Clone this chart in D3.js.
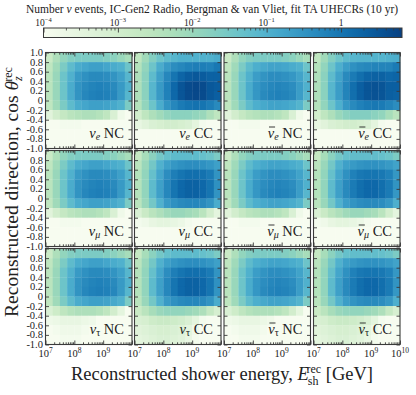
<!DOCTYPE html>
<html>
<head>
<meta charset="utf-8">
<script src="https://cdn.jsdelivr.net/npm/d3@7"></script>
<style>
  body { margin: 0; background: #fff; }
  svg { font-family: "Liberation Serif", "DejaVu Serif", serif; }
</style>
</head>
<body>
<div id="chart"></div>
<script>
// bin edges (log10 of energy in GeV, and cos theta)
const xEdgeExp = [7, 7.25, 7.5, 7.75, 8, 8.25, 8.5, 8.75, 9, 9.25, 9.5, 9.75, 10];
const yEdges = [-1, -0.8, -0.6, -0.4, -0.2, 0, 0.2, 0.4, 0.6, 0.8, 1];

// tick labels
const yTickValues = [1, 0.8, 0.6, 0.4, 0.2, 0, -0.2, -0.4, -0.6, -0.8, -1];
const yTickText = ["1.0", "0.8", "0.6", "0.4", "0.2", "0", "-0.2", "-0.4", "-0.6", "-0.8", "-1.0"];
const xTickExp = [7, 8, 9, 10];
const cbarTickExp = [-4, -3, -2, -1, 0];
const cbarRange = [1e-4, 6.6];

// panel labels: [flavour subscript, antineutrino?, interaction]
const panelNames = [
  ["e", false, "NC"], ["e", true, "NC"], ["e", false, "CC"], ["e", true, "CC"],
  ["μ", false, "NC"], ["μ", true, "NC"], ["μ", false, "CC"], ["μ", true, "CC"],
  ["τ", false, "NC"], ["τ", true, "NC"], ["τ", false, "CC"], ["τ", true, "CC"]
];
// grid order on the page (row by row): nu_e NC, nu_e CC, nubar_e NC, nubar_e CC ...
const panelOrder = [0, 2, 1, 3, 4, 6, 5, 7, 8, 10, 9, 11];

// log10(number of events) per cell, rows from cos = 1 (top) down to cos = -1
const nueNC = [
  [-2.8,-2.3,-1.9,-1.7,-1.6,-1.6,-1.6,-1.6,-1.7,-1.8,-2.0,-2.2],
  [-2.6,-2.1,-1.6,-1.2,-0.9,-0.8,-0.7,-0.7,-0.8,-0.9,-1.0,-1.4],
  [-2.5,-2.0,-1.4,-1.0,-0.6,-0.45,-0.35,-0.35,-0.4,-0.5,-0.7,-1.1],
  [-2.5,-2.0,-1.4,-0.9,-0.5,-0.35,-0.25,-0.2,-0.25,-0.35,-0.6,-1.0],
  [-2.5,-2.0,-1.4,-0.9,-0.5,-0.3,-0.2,-0.15,-0.2,-0.3,-0.6,-1.1],
  [-2.6,-2.1,-1.6,-1.2,-0.9,-0.8,-0.7,-0.7,-0.75,-0.85,-1.0,-1.6],
  [-3.4,-3.0,-2.7,-2.5,-2.4,-2.3,-2.3,-2.4,-2.6,-3.2,-3.8,-4.2],
  [-4.1,-4.0,-3.9,-3.9,-3.9,-4.0,-4.0,-4.2,-4.5,-5,-5,-5],
  [-4.3,-4.3,-4.2,-4.2,-4.3,-4.4,-4.5,-5,-5,-5,-5,-5],
  [-4.5,-4.4,-4.4,-4.4,-4.5,-4.6,-5,-5,-5,-5,-5,-5]
];
const nuebarNC = [
  [-2.8,-2.3,-1.9,-1.7,-1.6,-1.6,-1.6,-1.6,-1.7,-1.8,-2.0,-2.2],
  [-2.6,-2.1,-1.6,-1.2,-0.95,-0.85,-0.75,-0.75,-0.8,-0.9,-1.0,-1.4],
  [-2.5,-2.0,-1.4,-1.0,-0.65,-0.5,-0.4,-0.4,-0.45,-0.55,-0.75,-1.1],
  [-2.5,-2.0,-1.4,-0.9,-0.55,-0.4,-0.3,-0.25,-0.3,-0.4,-0.65,-1.0],
  [-2.5,-2.0,-1.4,-0.9,-0.55,-0.35,-0.25,-0.2,-0.25,-0.35,-0.65,-1.1],
  [-2.6,-2.1,-1.6,-1.2,-0.95,-0.85,-0.75,-0.75,-0.8,-0.9,-1.05,-1.6],
  [-3.4,-3.0,-2.7,-2.5,-2.4,-2.3,-2.3,-2.4,-2.6,-3.2,-3.8,-4.2],
  [-4.1,-4.0,-3.9,-3.9,-3.9,-4.0,-4.0,-4.2,-4.5,-5,-5,-5],
  [-4.3,-4.3,-4.2,-4.2,-4.3,-4.4,-4.5,-5,-5,-5,-5,-5],
  [-4.5,-4.4,-4.4,-4.4,-4.5,-4.6,-5,-5,-5,-5,-5,-5]
];
const nueCC = [
  [-2.6,-2.1,-1.7,-1.4,-1.2,-1.1,-1.0,-1.0,-1.0,-1.0,-1.0,-0.9],
  [-2.4,-1.9,-1.4,-0.9,-0.6,-0.4,-0.3,-0.2,-0.15,-0.15,-0.2,-0.05],
  [-2.3,-1.8,-1.2,-0.7,-0.3,0.0,0.25,0.4,0.45,0.4,0.3,0.3],
  [-2.3,-1.8,-1.1,-0.6,-0.2,0.2,0.5,0.65,0.7,0.65,0.45,0.4],
  [-2.3,-1.8,-1.1,-0.6,-0.2,0.2,0.5,0.65,0.7,0.65,0.45,0.35],
  [-2.4,-1.9,-1.4,-0.9,-0.5,-0.3,-0.1,0.0,0.05,0.0,-0.15,-0.35],
  [-3.0,-2.6,-2.3,-2.1,-1.9,-1.8,-1.8,-1.8,-1.9,-2.0,-2.3,-2.6],
  [-3.6,-3.4,-3.2,-3.1,-3.0,-3.0,-3.1,-3.2,-3.5,-3.9,-4.3,-4.6],
  [-4.2,-4.1,-4.0,-4.0,-4.0,-4.1,-4.2,-4.4,-4.7,-5,-5,-5],
  [-4.4,-4.3,-4.3,-4.3,-4.4,-4.5,-4.7,-5,-5,-5,-5,-5]
];
const nuebarCC = [
  [-2.6,-2.1,-1.7,-1.4,-1.2,-1.1,-1.05,-1.05,-1.05,-1.05,-1.0,-0.95],
  [-2.4,-1.9,-1.4,-0.95,-0.65,-0.45,-0.35,-0.3,-0.25,-0.25,-0.25,-0.1],
  [-2.3,-1.8,-1.2,-0.75,-0.35,-0.1,0.1,0.25,0.3,0.3,0.2,0.25],
  [-2.3,-1.8,-1.1,-0.65,-0.25,0.1,0.35,0.5,0.55,0.5,0.35,0.35],
  [-2.3,-1.8,-1.1,-0.65,-0.25,0.1,0.35,0.5,0.55,0.5,0.35,0.3],
  [-2.4,-1.9,-1.4,-0.95,-0.55,-0.35,-0.2,-0.1,-0.05,-0.1,-0.25,-0.4],
  [-3.0,-2.6,-2.3,-2.0,-1.8,-1.7,-1.7,-1.7,-1.8,-1.9,-2.2,-2.5],
  [-3.6,-3.4,-3.2,-3.1,-3.0,-3.0,-3.1,-3.2,-3.5,-3.9,-4.3,-4.6],
  [-4.2,-4.1,-4.0,-4.0,-4.0,-4.1,-4.2,-4.4,-4.7,-5,-5,-5],
  [-4.4,-4.3,-4.3,-4.3,-4.4,-4.5,-4.7,-5,-5,-5,-5,-5]
];
const numuNC = [
  [-2.8,-2.3,-1.9,-1.7,-1.6,-1.6,-1.6,-1.6,-1.7,-1.8,-2.0,-2.2],
  [-2.6,-2.1,-1.6,-1.2,-0.9,-0.8,-0.7,-0.7,-0.8,-0.9,-1.0,-1.4],
  [-2.5,-2.0,-1.4,-1.0,-0.6,-0.45,-0.35,-0.35,-0.4,-0.5,-0.7,-1.1],
  [-2.5,-2.0,-1.4,-0.9,-0.5,-0.35,-0.25,-0.2,-0.25,-0.35,-0.6,-1.0],
  [-2.5,-2.0,-1.4,-0.9,-0.5,-0.3,-0.2,-0.15,-0.2,-0.3,-0.6,-1.1],
  [-2.6,-2.1,-1.6,-1.2,-0.9,-0.8,-0.7,-0.7,-0.75,-0.85,-1.0,-1.6],
  [-3.4,-3.0,-2.7,-2.5,-2.4,-2.3,-2.3,-2.4,-2.6,-3.2,-3.8,-4.2],
  [-4.1,-4.0,-3.9,-3.9,-3.9,-4.0,-4.0,-4.2,-4.5,-5,-5,-5],
  [-4.3,-4.3,-4.2,-4.2,-4.3,-4.4,-4.5,-5,-5,-5,-5,-5],
  [-4.5,-4.4,-4.4,-4.4,-4.5,-4.6,-5,-5,-5,-5,-5,-5]
];
const numubarNC = [
  [-2.8,-2.3,-1.9,-1.7,-1.6,-1.6,-1.6,-1.6,-1.7,-1.8,-2.0,-2.2],
  [-2.6,-2.1,-1.6,-1.2,-0.95,-0.85,-0.75,-0.75,-0.8,-0.9,-1.0,-1.4],
  [-2.5,-2.0,-1.4,-1.0,-0.65,-0.5,-0.4,-0.4,-0.45,-0.55,-0.75,-1.1],
  [-2.5,-2.0,-1.4,-0.9,-0.55,-0.4,-0.3,-0.25,-0.3,-0.4,-0.65,-1.0],
  [-2.5,-2.0,-1.4,-0.9,-0.55,-0.35,-0.25,-0.2,-0.25,-0.35,-0.65,-1.1],
  [-2.6,-2.1,-1.6,-1.2,-0.95,-0.85,-0.75,-0.75,-0.8,-0.9,-1.05,-1.6],
  [-3.4,-3.0,-2.7,-2.5,-2.4,-2.3,-2.3,-2.4,-2.6,-3.2,-3.8,-4.2],
  [-4.1,-4.0,-3.9,-3.9,-3.9,-4.0,-4.0,-4.2,-4.5,-5,-5,-5],
  [-4.3,-4.3,-4.2,-4.2,-4.3,-4.4,-4.5,-5,-5,-5,-5,-5],
  [-4.5,-4.4,-4.4,-4.4,-4.5,-4.6,-5,-5,-5,-5,-5,-5]
];
const numuCC = [
  [-2.7,-2.2,-1.8,-1.5,-1.3,-1.2,-1.2,-1.2,-1.2,-1.3,-1.4,-1.6],
  [-2.5,-2.0,-1.5,-1.0,-0.7,-0.55,-0.45,-0.4,-0.4,-0.45,-0.55,-0.7],
  [-2.4,-1.9,-1.3,-0.8,-0.4,-0.15,0.0,0.1,0.1,0.05,-0.1,-0.5],
  [-2.4,-1.9,-1.2,-0.7,-0.3,0.0,0.2,0.3,0.3,0.2,0.0,-0.45],
  [-2.4,-1.9,-1.2,-0.7,-0.3,0.0,0.2,0.3,0.3,0.2,0.0,-0.5],
  [-2.5,-2.0,-1.5,-1.0,-0.6,-0.45,-0.35,-0.3,-0.3,-0.35,-0.5,-0.9],
  [-3.2,-2.8,-2.5,-2.3,-2.1,-2.0,-2.0,-2.1,-2.2,-2.5,-3.0,-3.5],
  [-3.9,-3.8,-3.6,-3.5,-3.5,-3.6,-3.7,-3.9,-4.2,-4.6,-5,-5],
  [-4.3,-4.2,-4.1,-4.1,-4.2,-4.3,-4.4,-4.7,-5,-5,-5,-5],
  [-4.5,-4.4,-4.4,-4.4,-4.5,-4.6,-4.8,-5,-5,-5,-5,-5]
];
const numubarCC = [
  [-2.7,-2.2,-1.8,-1.5,-1.3,-1.25,-1.25,-1.25,-1.25,-1.3,-1.4,-1.6],
  [-2.5,-2.0,-1.5,-1.0,-0.7,-0.6,-0.5,-0.45,-0.45,-0.5,-0.6,-0.75],
  [-2.4,-1.9,-1.3,-0.8,-0.45,-0.2,-0.05,0.0,0.0,-0.05,-0.2,-0.55],
  [-2.4,-1.9,-1.2,-0.7,-0.35,-0.1,0.1,0.2,0.2,0.1,-0.1,-0.5],
  [-2.4,-1.9,-1.2,-0.7,-0.35,-0.1,0.1,0.2,0.2,0.1,-0.1,-0.55],
  [-2.5,-2.0,-1.5,-1.0,-0.65,-0.5,-0.4,-0.35,-0.35,-0.4,-0.55,-0.95],
  [-3.2,-2.8,-2.5,-2.3,-2.1,-2.0,-2.0,-2.1,-2.2,-2.5,-3.0,-3.5],
  [-3.9,-3.8,-3.6,-3.5,-3.5,-3.6,-3.7,-3.9,-4.2,-4.6,-5,-5],
  [-4.3,-4.2,-4.1,-4.1,-4.2,-4.3,-4.4,-4.7,-5,-5,-5,-5],
  [-4.5,-4.4,-4.4,-4.4,-4.5,-4.6,-4.8,-5,-5,-5,-5,-5]
];
const nutauNC = [
  [-2.8,-2.3,-1.9,-1.7,-1.6,-1.6,-1.6,-1.6,-1.7,-1.8,-2.0,-2.2],
  [-2.6,-2.1,-1.6,-1.2,-0.9,-0.8,-0.7,-0.7,-0.8,-0.9,-1.0,-1.4],
  [-2.5,-2.0,-1.4,-1.0,-0.6,-0.45,-0.35,-0.35,-0.4,-0.5,-0.7,-1.1],
  [-2.5,-2.0,-1.4,-0.9,-0.5,-0.35,-0.25,-0.2,-0.25,-0.35,-0.6,-1.0],
  [-2.5,-2.0,-1.4,-0.9,-0.5,-0.3,-0.2,-0.15,-0.2,-0.3,-0.6,-1.1],
  [-2.6,-2.1,-1.6,-1.2,-0.9,-0.8,-0.7,-0.7,-0.75,-0.85,-1.0,-1.6],
  [-3.2,-2.9,-2.6,-2.4,-2.3,-2.3,-2.3,-2.4,-2.6,-3.0,-3.5,-4.0],
  [-3.8,-3.7,-3.6,-3.6,-3.6,-3.7,-3.8,-4.0,-4.3,-4.7,-5,-5],
  [-4.0,-3.9,-3.8,-3.8,-3.8,-3.9,-4.0,-4.2,-4.5,-4.9,-5,-5],
  [-4.1,-4.0,-3.9,-3.9,-3.9,-4.0,-4.1,-4.3,-4.6,-5,-5,-5]
];
const nutaubarNC = [
  [-2.8,-2.3,-1.9,-1.7,-1.6,-1.6,-1.6,-1.6,-1.7,-1.8,-2.0,-2.2],
  [-2.6,-2.1,-1.6,-1.2,-0.95,-0.85,-0.75,-0.75,-0.8,-0.9,-1.0,-1.4],
  [-2.5,-2.0,-1.4,-1.0,-0.65,-0.5,-0.4,-0.4,-0.45,-0.55,-0.75,-1.1],
  [-2.5,-2.0,-1.4,-0.9,-0.55,-0.4,-0.3,-0.25,-0.3,-0.4,-0.65,-1.0],
  [-2.5,-2.0,-1.4,-0.9,-0.55,-0.35,-0.25,-0.2,-0.25,-0.35,-0.65,-1.1],
  [-2.6,-2.1,-1.6,-1.2,-0.95,-0.85,-0.75,-0.75,-0.8,-0.9,-1.05,-1.6],
  [-3.2,-2.9,-2.6,-2.4,-2.3,-2.3,-2.3,-2.4,-2.6,-3.0,-3.5,-4.0],
  [-3.8,-3.7,-3.6,-3.6,-3.6,-3.7,-3.8,-4.0,-4.3,-4.7,-5,-5],
  [-4.0,-3.9,-3.8,-3.8,-3.8,-3.9,-4.0,-4.2,-4.5,-4.9,-5,-5],
  [-4.1,-4.0,-3.9,-3.9,-3.9,-4.0,-4.1,-4.3,-4.6,-5,-5,-5]
];
const nutauCC = [
  [-2.7,-2.2,-1.8,-1.5,-1.3,-1.2,-1.2,-1.2,-1.2,-1.3,-1.4,-1.6],
  [-2.5,-2.0,-1.5,-1.0,-0.7,-0.55,-0.45,-0.4,-0.4,-0.45,-0.55,-0.7],
  [-2.4,-1.9,-1.3,-0.8,-0.4,-0.15,0.0,0.1,0.1,0.05,-0.1,-0.5],
  [-2.4,-1.9,-1.2,-0.7,-0.3,0.0,0.2,0.3,0.3,0.2,0.0,-0.45],
  [-2.4,-1.9,-1.2,-0.7,-0.3,0.0,0.2,0.3,0.3,0.2,0.0,-0.5],
  [-2.5,-2.0,-1.5,-1.0,-0.6,-0.45,-0.35,-0.3,-0.3,-0.35,-0.5,-0.9],
  [-2.8,-2.5,-2.2,-2.0,-1.9,-1.9,-1.9,-2.0,-2.1,-2.3,-2.7,-3.1],
  [-3.2,-3.1,-2.9,-2.8,-2.8,-2.9,-3.0,-3.2,-3.5,-3.9,-4.3,-4.7],
  [-3.4,-3.3,-3.2,-3.1,-3.1,-3.2,-3.3,-3.5,-3.8,-4.2,-4.6,-5],
  [-3.5,-3.4,-3.3,-3.2,-3.2,-3.3,-3.4,-3.6,-3.9,-4.3,-4.7,-5]
];
const nutaubarCC = [
  [-2.7,-2.2,-1.8,-1.5,-1.3,-1.25,-1.25,-1.25,-1.25,-1.3,-1.4,-1.6],
  [-2.5,-2.0,-1.5,-1.0,-0.7,-0.6,-0.5,-0.45,-0.45,-0.5,-0.6,-0.75],
  [-2.4,-1.9,-1.3,-0.8,-0.45,-0.2,-0.05,0.0,0.0,-0.05,-0.2,-0.55],
  [-2.4,-1.9,-1.2,-0.7,-0.35,-0.1,0.1,0.2,0.2,0.1,-0.1,-0.5],
  [-2.4,-1.9,-1.2,-0.7,-0.35,-0.1,0.1,0.2,0.2,0.1,-0.1,-0.55],
  [-2.5,-2.0,-1.5,-1.0,-0.65,-0.5,-0.4,-0.35,-0.35,-0.4,-0.55,-0.95],
  [-2.8,-2.5,-2.2,-2.0,-1.9,-1.9,-1.9,-2.0,-2.1,-2.3,-2.7,-3.1],
  [-3.2,-3.1,-2.9,-2.8,-2.8,-2.9,-3.0,-3.2,-3.5,-3.9,-4.3,-4.7],
  [-3.4,-3.3,-3.2,-3.1,-3.1,-3.2,-3.3,-3.5,-3.8,-4.2,-4.6,-5],
  [-3.5,-3.4,-3.3,-3.2,-3.2,-3.3,-3.4,-3.6,-3.9,-4.3,-4.7,-5]
];
const panelValues = [nueNC, nuebarNC, nueCC, nuebarCC, numuNC, numubarNC,
                     numuCC, numubarCC, nutauNC, nutaubarNC, nutauCC, nutaubarCC];

// layout
const width = 416, height = 395;
const colX = [45.5, 134.5, 224, 313.5];
const rowY = [52.5, 150.5, 248.5];
const pw = 86.5, ph = 96;
const frameColor = "#3a3a3a";
const textColor = "#222";

const svg = d3.select("#chart")
  .append("svg")
  .attr("width", width)
  .attr("height", height);

const x = d3.scaleLog().domain([1e7, 1e10]).range([0, pw]);
const y = d3.scaleLinear().domain([-1, 1]).range([ph, 0]);
const color = d3.scaleSequentialLog(d3.interpolateGnBu).domain(cbarRange).clamp(true);

// minor ticks for log axes
function minorTicks(lo, hi) {
  const out = [];
  for (let e = lo; e < hi; e++) for (let m = 2; m <= 9; m++) out.push(m * Math.pow(10, e));
  return out;
}

panelOrder.forEach(function(p, i) {
  const col = i % 4, row = Math.floor(i / 4);
  const g = svg.append("g").attr("transform", `translate(${colX[col]},${rowY[row]})`);
  const vals = panelValues[p];

  // heatmap cells
  const cells = [];
  vals.forEach(function(r, ri) {
    r.forEach(function(v, ci) {
      cells.push({ x0: Math.pow(10, xEdgeExp[ci]), x1: Math.pow(10, xEdgeExp[ci + 1]),
                   y0: yEdges[9 - ri], y1: yEdges[10 - ri], v: v });
    });
  });
  g.append("g")
    .selectAll("rect")
    .data(cells)
    .join("rect")
      .attr("x", d => x(d.x0))
      .attr("y", d => y(d.y1))
      .attr("width", d => x(d.x1) - x(d.x0) + 0.3)
      .attr("height", d => y(d.y0) - y(d.y1) + 0.3)
      .attr("fill", d => color(Math.pow(10, d.v)));

  // ticks, pointing inwards on all four sides
  const major = xTickExp.map(e => Math.pow(10, e));
  const addX = function(axisFn, ty, vals, len) {
    g.append("g")
      .attr("transform", `translate(0,${ty})`)
      .call(axisFn(x).tickValues(vals).tickSizeInner(-len).tickSizeOuter(0).tickFormat(""))
      .call(a => a.select(".domain").remove())
      .call(a => a.selectAll("line").attr("stroke", frameColor).attr("stroke-width", 0.9));
  };
  addX(d3.axisBottom, ph, major, 4);
  addX(d3.axisBottom, ph, minorTicks(7, 10), 2.2);
  addX(d3.axisTop, 0, major, 4);
  addX(d3.axisTop, 0, minorTicks(7, 10), 2.2);
  [d3.axisLeft, d3.axisRight].forEach(function(fn, k) {
    g.append("g")
      .attr("transform", `translate(${k ? pw : 0},0)`)
      .call(fn(y).tickValues(yTickValues).tickSizeInner(-3.5).tickSizeOuter(0).tickFormat(""))
      .call(a => a.select(".domain").remove())
      .call(a => a.selectAll("line").attr("stroke", frameColor).attr("stroke-width", 0.9));
  });

  // frame
  g.append("rect")
    .attr("width", pw).attr("height", ph)
    .attr("fill", "none")
    .attr("stroke", frameColor)
    .attr("stroke-width", 1.1);

  // y tick labels on the first column
  if (col === 0) {
    g.append("g")
      .selectAll("text")
      .data(yTickValues.map((v, k) => ({ v: v, t: yTickText[k] })).filter(d => row === 0 || d.v < 1))
      .join("text")
        .attr("x", -2.5)
        .attr("y", d => y(d.v))
        .attr("dy", "0.33em")
        .attr("text-anchor", "end")
        .attr("font-size", 10.5)
        .attr("fill", textColor)
        .text(d => d.t);
  }

  // x tick labels on the bottom row
  if (row === 2) {
    const shown = col === 3 ? xTickExp : xTickExp.slice(0, 3);
    const lab = g.append("g")
      .selectAll("text")
      .data(shown)
      .join("text")
        .attr("x", d => x(Math.pow(10, d)))
        .attr("y", ph + 12.5)
        .attr("text-anchor", "middle")
        .attr("font-size", 10.5)
        .attr("fill", textColor);
    lab.append("tspan").text("10");
    lab.append("tspan").attr("font-size", 7.5).attr("dy", -4.5).text(d => d);
  }

  // panel label, bottom right
  const nm = panelNames[p];
  const t = g.append("text")
    .attr("x", pw - 8)
    .attr("y", ph - 11)
    .attr("text-anchor", "end")
    .attr("font-size", 14.5)
    .attr("fill", textColor);
  t.append("tspan").attr("font-style", "italic").text("ν");
  t.append("tspan").attr("font-style", nm[0] === "τ" ? "normal" : "italic")
    .attr("font-size", 10).attr("dy", 2.5).text(nm[0]);
  t.append("tspan").attr("dy", -2.5).text(" " + nm[2]);
  if (nm[1]) {
    // bar over the nu for antineutrinos
    const n = t.node();
    const sx = n.getStartPositionOfChar(0).x, ex = n.getEndPositionOfChar(0).x;
    g.append("line")
      .attr("x1", sx + 1.2).attr("x2", ex + 0.8)
      .attr("y1", ph - 21.5).attr("y2", ph - 21.5)
      .attr("stroke", textColor).attr("stroke-width", 0.9);
  }
});

// colour bar
const cb = { x0: 43.5, x1: 402, y0: 28, h: 9.5 };
const cx = d3.scaleLog().domain(cbarRange).range([cb.x0, cb.x1]);
const grad = svg.append("defs").append("linearGradient").attr("id", "cbgrad");
d3.range(0, 1.0001, 0.05).forEach(function(s) {
  grad.append("stop").attr("offset", s).attr("stop-color", d3.interpolateGnBu(s));
});
svg.append("rect")
  .attr("x", cb.x0).attr("y", cb.y0)
  .attr("width", cb.x1 - cb.x0).attr("height", cb.h)
  .attr("fill", "url(#cbgrad)");

svg.append("g")
  .attr("transform", `translate(0,${cb.y0})`)
  .call(d3.axisTop(cx).tickValues(cbarTickExp.map(e => Math.pow(10, e))).tickSizeInner(-4.5).tickSizeOuter(0).tickFormat(""))
  .call(a => a.select(".domain").remove())
  .call(a => a.selectAll("line").attr("stroke", frameColor).attr("stroke-width", 0.9));
svg.append("g")
  .attr("transform", `translate(0,${cb.y0})`)
  .call(d3.axisTop(cx).tickValues(minorTicks(-4, 1).filter(v => v < cbarRange[1])).tickSizeInner(-2.5).tickSizeOuter(0).tickFormat(""))
  .call(a => a.select(".domain").remove())
  .call(a => a.selectAll("line").attr("stroke", frameColor).attr("stroke-width", 0.8));

svg.append("rect")
  .attr("x", cb.x0).attr("y", cb.y0)
  .attr("width", cb.x1 - cb.x0).attr("height", cb.h)
  .attr("fill", "none").attr("stroke", frameColor).attr("stroke-width", 1);

const cbl = svg.append("g")
  .selectAll("text")
  .data(cbarTickExp)
  .join("text")
    .attr("x", d => cx(Math.pow(10, d)))
    .attr("y", 25.5)
    .attr("text-anchor", "middle")
    .attr("font-size", 9.5)
    .attr("fill", textColor);
cbl.append("tspan").text(d => d === 0 ? "1" : "10");
cbl.append("tspan").attr("font-size", 6.5).attr("dy", -4).text(d => d === 0 ? "" : "\u2212" + (-d));

// title
const title = svg.append("text")
  .attr("x", 212).attr("y", 12.5)
  .attr("text-anchor", "middle")
  .attr("font-size", 11.5)
  .attr("fill", textColor);
title.append("tspan").text("Number ");
title.append("tspan").attr("font-style", "italic").text("ν");
title.append("tspan").text(" events, IC-Gen2 Radio, Bergman & van Vliet, fit TA UHECRs (10 yr)");

// axis titles
const xt = svg.append("text")
  .attr("x", 222).attr("y", 380)
  .attr("text-anchor", "middle")
  .attr("font-size", 18.5)
  .attr("fill", textColor);
xt.append("tspan").text("Reconstructed shower energy, ");
xt.append("tspan").attr("font-style", "italic").text("E");
xt.append("tspan").attr("font-size", 12).attr("dy", 4.5).attr("dx", -1).text("sh");
xt.append("tspan").attr("font-size", 12).attr("dy", -12).attr("dx", -12).text("rec");
xt.append("tspan").attr("dy", 7.5).text(" [GeV]");

const yt = svg.append("text")
  .attr("transform", "translate(18,192) rotate(-90)")
  .attr("text-anchor", "middle")
  .attr("font-size", 19.5)
  .attr("fill", textColor);
yt.append("tspan").text("Reconstructed direction, cos ");
yt.append("tspan").attr("font-style", "italic").text("θ");
yt.append("tspan").attr("font-size", 12).attr("font-style", "italic").attr("dy", 4).text("z");
yt.append("tspan").attr("font-size", 12).attr("dy", -10.5).attr("dx", -5.5).text("rec");
</script>
</body>
</html>
